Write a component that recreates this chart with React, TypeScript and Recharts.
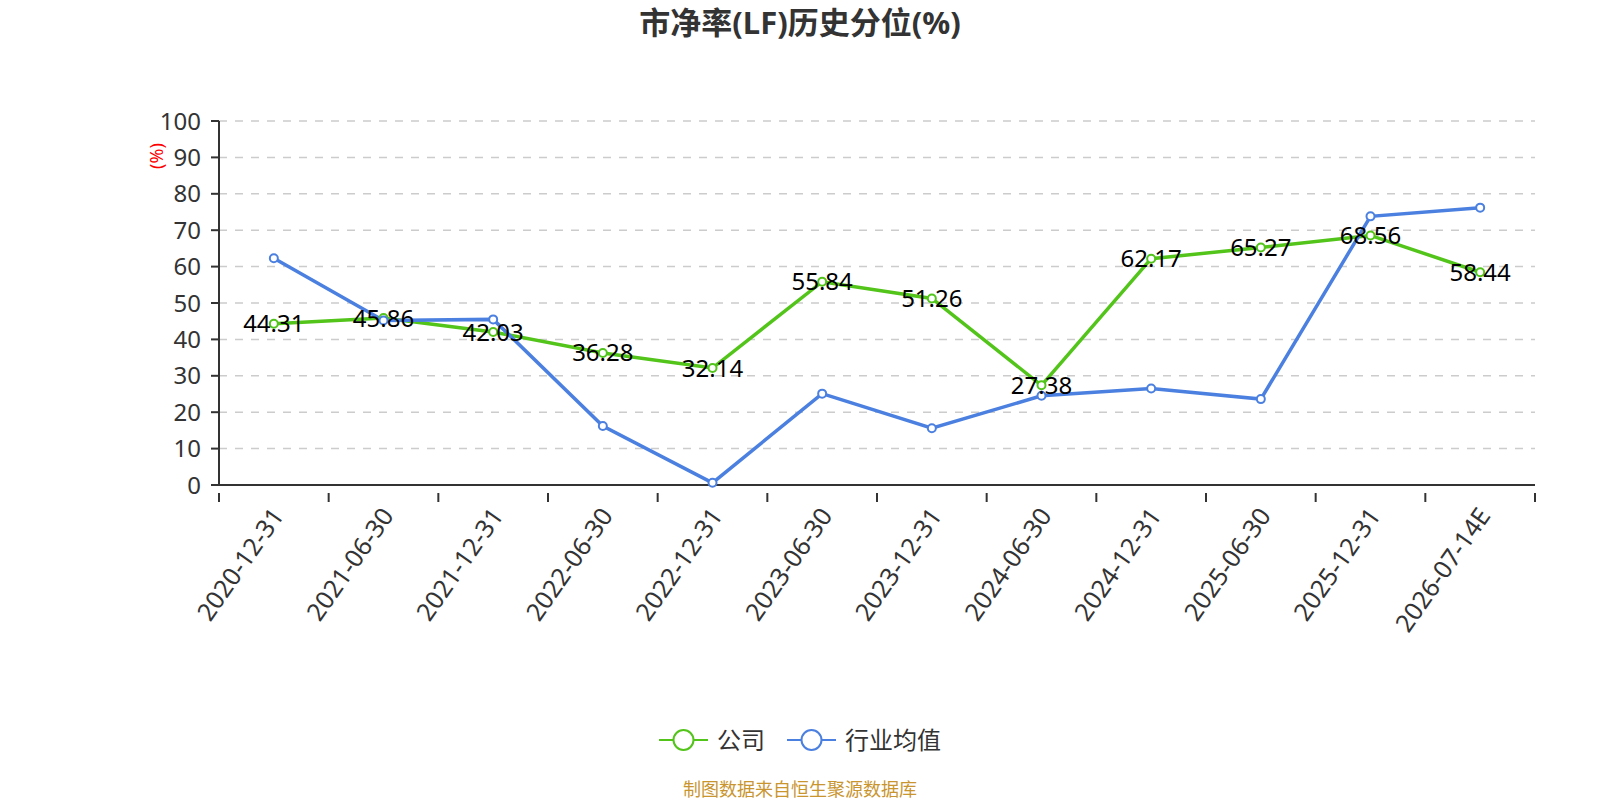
/**
 * 市净率(LF)历史分位 chart
 *
 * Company vs industry average percentile lines, category labels centred in
 * their bands with tick marks on the band edges (echarts-style boundaryGap).
 */

import { LineChart, Line, XAxis, YAxis, CartesianGrid, LabelList } from 'recharts';

const categories = [
  '2020-12-31',
  '2021-06-30',
  '2021-12-31',
  '2022-06-30',
  '2022-12-31',
  '2023-06-30',
  '2023-12-31',
  '2024-06-30',
  '2024-12-31',
  '2025-06-30',
  '2025-12-31',
  '2026-07-14E',
];
const companyValues = [44.31, 45.86, 42.03, 36.28, 32.14, 55.84, 51.26, 27.38, 62.17, 65.27, 68.56, 58.44];
const industryValues = [62.3, 45.2, 45.5, 16.2, 0.6, 25.1, 15.6, 24.5, 26.5, 23.6, 73.8, 76.2];
const yTicks = [0, 10, 20, 30, 40, 50, 60, 70, 80, 90, 100];

// band centres carry the labels, band edges carry the tick marks
const xTicks: number[] = [];
for (let i = 0; i <= categories.length; i++) {
  xTicks.push(i);
  if (i < categories.length) xTicks.push(i + 0.5);
}

const rows = categories.map((name, i) => ({
  pos: i + 0.5,
  name,
  company: companyValues[i],
  industry: industryValues[i],
}));

const GREEN = '#52c41a';
const BLUE = '#4b80e0';
const FONT = '"Noto Sans", "Noto Sans CJK SC", sans-serif';

function XTick(props: any) {
  const { x, y, payload } = props;
  const v = payload.value as number;
  if (Number.isInteger(v)) {
    return <line x1={x} y1={y} x2={x} y2={y + 9} stroke="#333" strokeWidth={2} />;
  }
  const label = categories[Math.floor(v)];
  return (
    <text
      x={0}
      y={0}
      transform={`translate(${x + 3},${y + 17}) rotate(-55)`}
      textAnchor="end"
      dominantBaseline="central"
      fontSize={25}
      fontFamily={FONT}
      fill="#333"
    >
      {label}
    </text>
  );
}

function LegendIcon({ color }: { color: string }) {
  return (
    <svg width={49} height={24} style={{ verticalAlign: 'middle' }}>
      <line x1={0} y1={12} x2={49} y2={12} stroke={color} strokeWidth={2} />
      <circle cx={24.5} cy={12} r={10} fill="#fff" stroke={color} strokeWidth={2} />
    </svg>
  );
}

export default function App() {
  return (
    <div
      style={{
        position: 'absolute',
        left: 0,
        top: 0,
        width: 1600,
        height: 800,
        background: '#fff',
        fontFamily: FONT,
      }}
    >
      <div
        style={{
          position: 'absolute',
          left: 0,
          width: 1600,
          top: 0,
          textAlign: 'center',
          fontSize: 31,
          fontWeight: 'bold',
          color: '#333',
          lineHeight: '44px',
        }}
      >
        市净率(LF)历史分位(%)
      </div>

      <LineChart
        width={1600}
        height={800}
        data={rows}
        margin={{ top: 121, right: 65, left: 159, bottom: 165 }}
      >
        <CartesianGrid horizontal vertical={false} stroke="#ccc" strokeWidth={1.5} strokeDasharray="8 8" />
        <XAxis
          dataKey="pos"
          type="number"
          domain={[0, categories.length]}
          ticks={xTicks}
          interval={0}
          height={150}
          tickLine={false}
          axisLine={{ stroke: '#333', strokeWidth: 2 }}
          tick={<XTick />}
        />
        <YAxis
          width={60}
          domain={[0, 100]}
          ticks={yTicks}
          interval={0}
          tickSize={8}
          tickMargin={10}
          tickLine={{ stroke: '#333', strokeWidth: 2 }}
          axisLine={{ stroke: '#333', strokeWidth: 2 }}
          tick={{ fontSize: 24, fill: '#333', fontFamily: FONT }}
          label={({ viewBox }: any) => (
            <text
              x={0}
              y={0}
              transform={`translate(${viewBox.x - 3},${viewBox.y + 35}) rotate(-90)`}
              textAnchor="middle"
              dominantBaseline="central"
              fontSize={18}
              fill="#f00"
              fontFamily={FONT}
            >
              (%)
            </text>
          )}
        />
        <Line
          type="linear"
          dataKey="company"
          name="公司"
          stroke={GREEN}
          strokeWidth={3.5}
          dot={{ r: 4, fill: '#fff', stroke: GREEN, strokeWidth: 2 }}
          isAnimationActive={false}
        >
          <LabelList
            dataKey="company"
            position="center"
            fontSize={24}
            fill="#000"
            fontFamily={FONT}
            formatter={(v: any) => Number(v).toFixed(2)}
          />
        </Line>
        <Line
          type="linear"
          dataKey="industry"
          name="行业均值"
          stroke={BLUE}
          strokeWidth={3.5}
          dot={{ r: 4, fill: '#fff', stroke: BLUE, strokeWidth: 2 }}
          isAnimationActive={false}
        />
      </LineChart>

      <div
        style={{
          position: 'absolute',
          left: 0,
          width: 1600,
          top: 720,
          textAlign: 'center',
          fontSize: 24,
          color: '#333',
          lineHeight: '34px',
        }}
      >
        <LegendIcon color={GREEN} />
        <span style={{ marginLeft: 9, marginRight: 22, verticalAlign: 'middle' }}>公司</span>
        <LegendIcon color={BLUE} />
        <span style={{ marginLeft: 9, verticalAlign: 'middle' }}>行业均值</span>
      </div>

      <div
        style={{
          position: 'absolute',
          left: 0,
          width: 1600,
          top: 776,
          textAlign: 'center',
          fontSize: 18,
          color: '#c9952f',
          lineHeight: '26px',
        }}
      >
        制图数据来自恒生聚源数据库
      </div>
    </div>
  );
}
